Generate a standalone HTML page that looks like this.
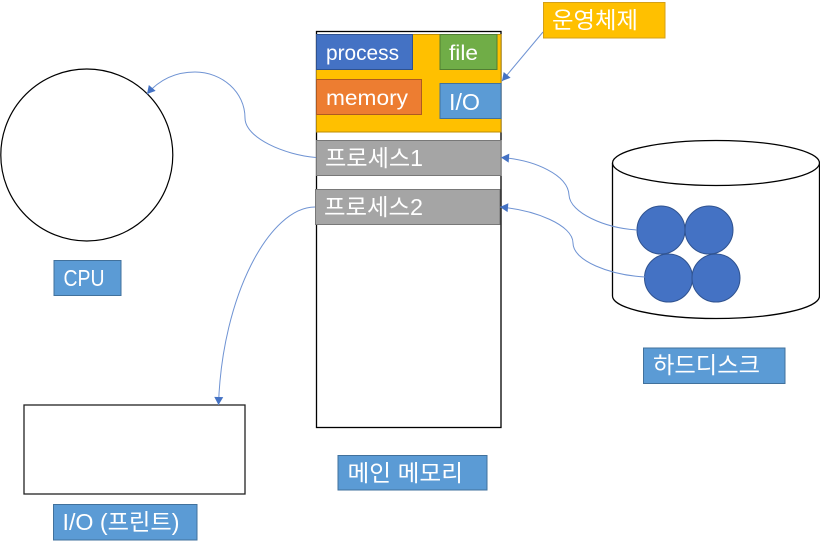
<!DOCTYPE html>
<html>
<head>
<meta charset="utf-8">
<style>
html,body{margin:0;padding:0;background:#fff;width:820px;height:548px;overflow:hidden}
svg{display:block}
text{font-family:"Liberation Sans","Noto Sans CJK KR",sans-serif;font-size:21.5px;fill:#fff}
text.k{font-size:23px}
</style>
</head>
<body>
<svg width="820" height="548" viewBox="0 0 820 548" xmlns="http://www.w3.org/2000/svg">
<defs>
<marker id="a" markerUnits="userSpaceOnUse" markerWidth="10" markerHeight="10" refX="9" refY="5" orient="auto">
<path d="M1 0.5L9 5L1 9.5Z" fill="#4472C4"/>
</marker>
</defs>

<!-- main memory -->
<rect x="316.5" y="31.5" width="184.5" height="396" fill="#fff" stroke="#000" stroke-width="1.3"/>
<rect x="316.5" y="34.5" width="184.5" height="97.5" fill="#FFC000" stroke="#BC8C00"/>
<rect x="316.5" y="34.5" width="96" height="35" fill="#4472C4" stroke="#2F528F"/>
<text x="326" y="60" textLength="73" lengthAdjust="spacingAndGlyphs">process</text>
<rect x="440" y="34.5" width="57" height="35" fill="#70AD47" stroke="#507E32"/>
<text x="449" y="60" textLength="29" lengthAdjust="spacingAndGlyphs">file</text>
<rect x="316.5" y="79.5" width="105" height="35" fill="#ED7D31" stroke="#AE5A21"/>
<text x="326" y="105" textLength="82" lengthAdjust="spacingAndGlyphs">memory</text>
<rect x="440" y="83.5" width="61" height="35" fill="#5B9BD5" stroke="#41719C"/>
<text class="k" x="449" y="110" textLength="31" lengthAdjust="spacingAndGlyphs">I/O</text>
<rect x="316.5" y="140.5" width="184.5" height="35" fill="#A5A5A5" stroke="#787878"/>
<text class="k" x="325" y="166" textLength="98" lengthAdjust="spacingAndGlyphs">프로세스1</text>
<rect x="315.5" y="189.5" width="184.5" height="35" fill="#A5A5A5" stroke="#787878"/>
<text class="k" x="324" y="215" textLength="99" lengthAdjust="spacingAndGlyphs">프로세스2</text>

<!-- OS label -->
<rect x="543.5" y="2.5" width="121.5" height="35.5" fill="#FFC000" stroke="#D4A017"/>
<text class="k" x="552" y="28" textLength="86" lengthAdjust="spacingAndGlyphs">운영체제</text>

<!-- CPU -->
<circle cx="86.8" cy="155" r="86" fill="#fff" stroke="#000" stroke-width="1.2"/>
<rect x="54" y="260.5" width="67" height="35" fill="#5B9BD5" stroke="#41719C"/>
<text class="k" x="63.5" y="286" textLength="41" lengthAdjust="spacingAndGlyphs">CPU</text>

<!-- IO box -->
<rect x="24" y="405" width="221" height="89" fill="#fff" stroke="#222" stroke-width="1.3"/>
<rect x="53.5" y="504.5" width="143.5" height="35.5" fill="#5B9BD5" stroke="#41719C"/>
<text class="k" x="62.5" y="530" textLength="117" lengthAdjust="spacingAndGlyphs">I/O (프린트)</text>

<!-- main memory label -->
<rect x="338" y="455.5" width="149" height="34.5" fill="#5B9BD5" stroke="#41719C"/>
<text class="k" x="347.5" y="481" textLength="115.5" lengthAdjust="spacingAndGlyphs">메인 메모리</text>

<!-- disk -->
<path d="M612.5 163V296C612.5 308.5 659 318.5 716 318.5S819.5 308.5 819.5 296V163" fill="#fff" stroke="#000" stroke-width="1.3"/>
<ellipse cx="716" cy="163" rx="103.5" ry="22.5" fill="#fff" stroke="#000" stroke-width="1.3"/>
<circle cx="661" cy="230" r="24" fill="#4472C4" stroke="#2F528F"/>
<circle cx="709" cy="230" r="24" fill="#4472C4" stroke="#2F528F"/>
<circle cx="668.5" cy="278" r="24" fill="#4472C4" stroke="#2F528F"/>
<circle cx="716" cy="278" r="24" fill="#4472C4" stroke="#2F528F"/>
<rect x="643.5" y="348" width="141.5" height="35.5" fill="#5B9BD5" stroke="#41719C"/>
<text class="k" x="653" y="373" textLength="107" lengthAdjust="spacingAndGlyphs">하드디스크</text>

<!-- connectors -->
<g fill="none" stroke="#6F93D3" stroke-width="1" marker-end="url(#a)">
<path d="M316 157.5C285 155 245 138 245 118C245 92 222 72 195 72C176 72 160 79 147 94"/>
<path d="M637 230C605 228 570 213 569 195C568 175 535 160 501 157.5"/>
<path d="M645 277C610 275 573 261 573 243C573 225 535 210 500 207"/>
<path d="M315 207C270 207 222 295 218.5 405"/>
<path d="M543 32L502 81"/>
</g>
</svg>
</body>
</html>
